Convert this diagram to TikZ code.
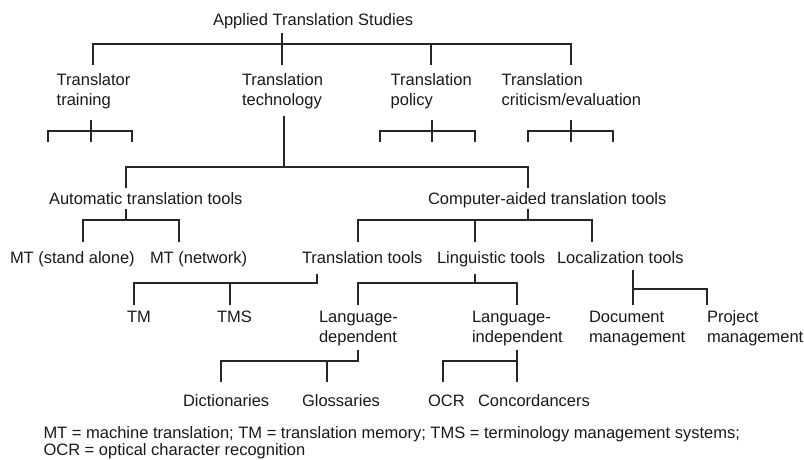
\documentclass[tikz,border=0pt]{standalone}
\usepackage{fontspec}
\setmainfont{Liberation Sans}
\newcommand\twolines[2]{\begin{tabular}[t]{@{}l@{}}#1\\#2\end{tabular}}
\begin{document}
\begin{tikzpicture}[x=1pt,y=-1pt,
  lbl/.style={anchor=base west,inner sep=0pt,outer sep=0pt,text=black!90,font=\fontsize{16.5}{19.7}\selectfont},
  tree/.style={line width=1.1pt,draw=black!85}]
\useasboundingbox (0,0) rectangle (804,460);
% ---------- nodes ----------
\node[lbl] (ats) at (213,26) {Applied Translation Studies};
\node[lbl] (tt)  at (56.7,85.5) {\twolines{Translator}{training}};
\node[lbl] (tech) at (242,85.5) {\twolines{Translation}{technology}};
\node[lbl] (pol) at (390.7,85.5) {\twolines{Translation}{policy}};
\node[lbl] (crit) at (501.7,85.5) {\twolines{Translation}{criticism/evaluation}};
\node[lbl] (auto) at (49,204) {Automatic translation tools};
\node[lbl] (cat) at (428,204) {Computer-aided translation tools};
\node[lbl] (mtsa) at (10,263.5) {MT (stand alone)};
\node[lbl] (mtnw) at (150,263.5) {MT (network)};
\node[lbl] (trt) at (302,263.5) {Translation tools};
\node[lbl] (lit) at (437,263.5) {Linguistic tools};
\node[lbl] (lot) at (557,263.5) {Localization tools};
\node[lbl] (tm) at (127,322.5) {TM};
\node[lbl] (tms) at (217,322.5) {TMS};
\node[lbl] (ld) at (319,322.5) {\twolines{Language-}{dependent}};
\node[lbl] (li) at (472,322.5) {\twolines{Language-}{independent}};
\node[lbl] (dm) at (589,322.5) {\twolines{Document}{management}};
\node[lbl] (pm) at (707,322.5) {\twolines{Project}{management}};
\node[lbl] (dic) at (183,406.5) {Dictionaries};
\node[lbl] (glo) at (302,406.5) {Glossaries};
\node[lbl] (ocr) at (428,406.5) {OCR};
\node[lbl] (con) at (478,406.5) {Concordancers};
\node[lbl] (fn1) at (43.5,438) {MT = machine translation; TM = translation memory; TMS = terminology management systems;};
\node[lbl] (fn2) at (43.5,455) {OCR = optical character recognition};
% ---------- connector points ----------
% level 1
\coordinate (atsS) at (282,33);  \coordinate (atsJ) at (282,44);
\coordinate (j1a) at (93,44);   \coordinate (ttN) at (93,65);
\coordinate (techN) at (282,65);
\coordinate (j1c) at (431,44);  \coordinate (polN) at (431,65);
\coordinate (j1d) at (571,44);  \coordinate (critN) at (571,65);
% small brackets
\coordinate (ttS) at (91,120);   \coordinate (ttJ) at (91,131);
\coordinate (tta) at (48,131);   \coordinate (ttaE) at (48,142);
\coordinate (ttc) at (132,131);  \coordinate (ttcE) at (132,142);
\coordinate (ttbE) at (91,142);
\coordinate (polS) at (432,120); \coordinate (polJ) at (432,131);
\coordinate (pola) at (380,131); \coordinate (polaE) at (380,142);
\coordinate (polc) at (475,131); \coordinate (polcE) at (475,142);
\coordinate (polbE) at (432,142);
\coordinate (critS) at (571,120); \coordinate (critJ) at (571,131);
\coordinate (crita) at (528,131); \coordinate (critaE) at (528,142);
\coordinate (critc) at (613,131); \coordinate (critcE) at (613,142);
\coordinate (critbE) at (571,142);
% technology
\coordinate (techS) at (284,116); \coordinate (techJ) at (284,167);
\coordinate (j2a) at (126,167); \coordinate (autoN) at (126,188);
\coordinate (j2b) at (528,167); \coordinate (catN) at (528,188);
% automatic
\coordinate (autoS) at (126,209); \coordinate (autoJ) at (126,220);
\coordinate (j3a) at (83,220);  \coordinate (mtsaN) at (83,242);
\coordinate (j3b) at (179,220); \coordinate (mtnwN) at (179,242);
% computer-aided
\coordinate (catS) at (528,209); \coordinate (catJ) at (528,220);
\coordinate (j4a) at (358,220); \coordinate (trtN) at (358,242);
\coordinate (j4b) at (475,220); \coordinate (litN) at (475,242);
\coordinate (j4c) at (592,220); \coordinate (lotN) at (592,242);
% translation tools
\coordinate (trtS) at (317,274); \coordinate (trtJ) at (317,283);
\coordinate (j5a) at (134,283); \coordinate (tmN) at (134,305);
\coordinate (j5b) at (230,283); \coordinate (tmsN) at (230,305);
% linguistic tools
\coordinate (litS) at (475,274); \coordinate (litJ) at (475,283);
\coordinate (j6a) at (358,283); \coordinate (ldN) at (358,305);
\coordinate (j6b) at (517,283); \coordinate (liN) at (517,305);
% localization tools
\coordinate (lotS) at (633,270); \coordinate (lotJ) at (633,289);
\coordinate (dmN) at (633,305);
\coordinate (j7b) at (707,289); \coordinate (pmN) at (707,305);
% language-dependent
\coordinate (ldS) at (358,350); \coordinate (ldJ) at (358,361);
\coordinate (j8a) at (221,361); \coordinate (dicN) at (221,382);
\coordinate (j8b) at (327,361); \coordinate (gloN) at (327,382);
% language-independent
\coordinate (liS) at (517,350); \coordinate (liJ) at (517,361);
\coordinate (j9a) at (443,361); \coordinate (ocrN) at (443,382);
\coordinate (conN) at (517,382);
% ---------- connectors ----------
\draw[tree] (atsS) -- (techN);
\draw[tree] (ttN) -- (j1a) -- (j1d) -- (critN);
\draw[tree] (j1c) -- (polN);
\foreach \p in {tt,pol,crit}{
  \draw[tree] (\p S) -- (\p bE);
  \draw[tree] (\p aE) -- (\p a) -- (\p c) -- (\p cE);
}
\draw[tree] (techS) -- (techJ);
\draw[tree] (autoN) -- (j2a) -- (j2b) -- (catN);
\draw[tree] (autoS) -- (autoJ);
\draw[tree] (mtsaN) -- (j3a) -- (j3b) -- (mtnwN);
\draw[tree] (catS) -- (catJ);
\draw[tree] (trtN) -- (j4a) -- (j4c) -- (lotN);
\draw[tree] (j4b) -- (litN);
\draw[tree] (trtS) -- (trtJ) -- (j5a) -- (tmN);
\draw[tree] (j5b) -- (tmsN);
\draw[tree] (litS) -- (litJ);
\draw[tree] (ldN) -- (j6a) -- (j6b) -- (liN);
\draw[tree] (lotS) -- (dmN);
\draw[tree] (lotJ) -- (j7b) -- (pmN);
\draw[tree] (ldS) -- (ldJ) -- (j8a) -- (dicN);
\draw[tree] (j8b) -- (gloN);
\draw[tree] (liS) -- (conN);
\draw[tree] (liJ) -- (j9a) -- (ocrN);
\end{tikzpicture}
\end{document}
